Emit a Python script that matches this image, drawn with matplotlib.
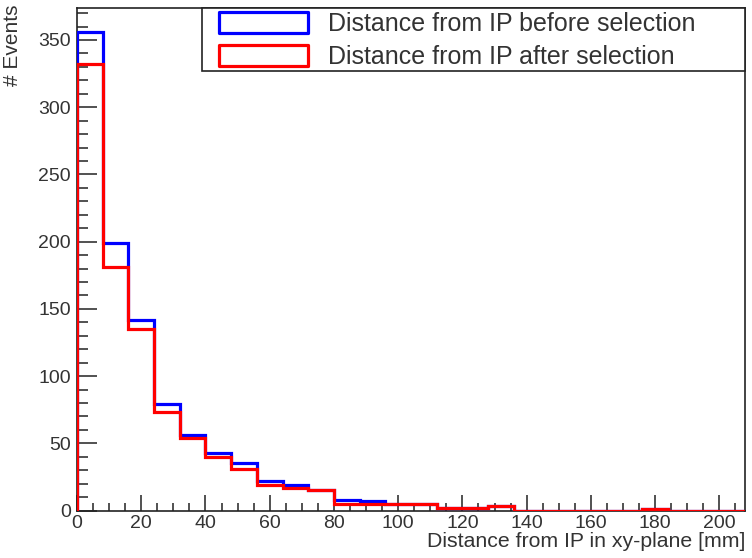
import numpy as np
import matplotlib
matplotlib.use("Agg")
import matplotlib.pyplot as plt
from matplotlib.patches import Rectangle
from matplotlib.ticker import MultipleLocator

plt.rcParams['font.family'] = ['Liberation Sans', 'DejaVu Sans']

# Bin edges (mm) and contents
bin_edges = np.arange(0, 209, 8)
before_sel = [356, 199, 142, 79, 56, 43, 35, 22, 19, 15, 8, 7, 5, 5, 2, 2, 3,
              0, 0, 0, 0, 0, 1, 0, 0, 0]
after_sel = [332, 181, 135, 73, 54, 40, 31, 19, 17, 15, 5, 5, 5, 5, 2, 2, 3,
             0, 0, 0, 0, 0, 1, 0, 0, 0]
legend_labels = ["Distance from IP before selection",
                 "Distance from IP after selection"]
x_label = "Distance from IP in xy-plane [mm]"
y_label = "# Events"

W, H = 752, 558
fig = plt.figure(figsize=(W / 100, H / 100), dpi=100)

def fx(x):
    return x / W

def fy(y):
    return 1 - y / H

ax_l, ax_r, ax_t, ax_b = 77, 745, 8, 510.5
ax = fig.add_axes([fx(ax_l), fy(ax_b), (ax_r - ax_l) / W, (ax_b - ax_t) / H])

txt_col = '#333333'
blue = '#0000ff'
red = '#ff0000'

ax.stairs(before_sel, bin_edges, color=blue, linewidth=2.3, zorder=3)
ax.stairs(after_sel, bin_edges, color=red, linewidth=2.3, zorder=4)

ax.set_xlim(0, 208)
ax.set_ylim(0, max(before_sel) * 1.05)

ax.xaxis.set_major_locator(MultipleLocator(20))
ax.xaxis.set_minor_locator(MultipleLocator(5))
ax.yaxis.set_major_locator(MultipleLocator(50))
ax.yaxis.set_minor_locator(MultipleLocator(10))

ax.tick_params(axis='both', which='both', direction='in', colors=txt_col,
               top=False, right=False, labelsize=14, width=1.2)
ax.tick_params(axis='x', which='major', length=11.5, pad=3.5)
ax.tick_params(axis='x', which='minor', length=5.8)
ax.tick_params(axis='y', which='major', length=14.5, pad=4.5)
ax.tick_params(axis='y', which='minor', length=8)

for sp in ax.spines.values():
    sp.set_color('#222222')
    sp.set_linewidth(1.2)

# Axis titles (ROOT style: aligned to the far end of the axes)
fig.text(fx(745), fy(532), x_label, ha='right', va='top', fontsize=15.3,
         color=txt_col)
fig.text(fx(13), fy(4), y_label, ha='center', va='top', rotation=90,
         fontsize=15, color=txt_col)

# Legend box
lx0, ly0, lx1, ly1 = 202, 8, 745, 71
fig.patches.append(Rectangle((fx(lx0), fy(ly1)), (lx1 - lx0) / W,
                             (ly1 - ly0) / H, transform=fig.transFigure,
                             facecolor='white', edgecolor='#222222',
                             linewidth=1.2, zorder=5))
entries = [(blue, legend_labels[0], 12, 33), (red, legend_labels[1], 45, 66)]
for col, lab, y0, y1 in entries:
    fig.patches.append(Rectangle((fx(219), fy(y1)), (308 - 219) / W,
                                 (y1 - y0) / H, transform=fig.transFigure,
                                 facecolor='white', edgecolor=col,
                                 linewidth=2.3, joinstyle='round', zorder=6))
    fig.text(fx(328), fy((y0 + y1) / 2 - 1), lab, ha='left',
             va='center_baseline', fontsize=18, color=txt_col, zorder=7)

fig.savefig('out.png', dpi=100)
